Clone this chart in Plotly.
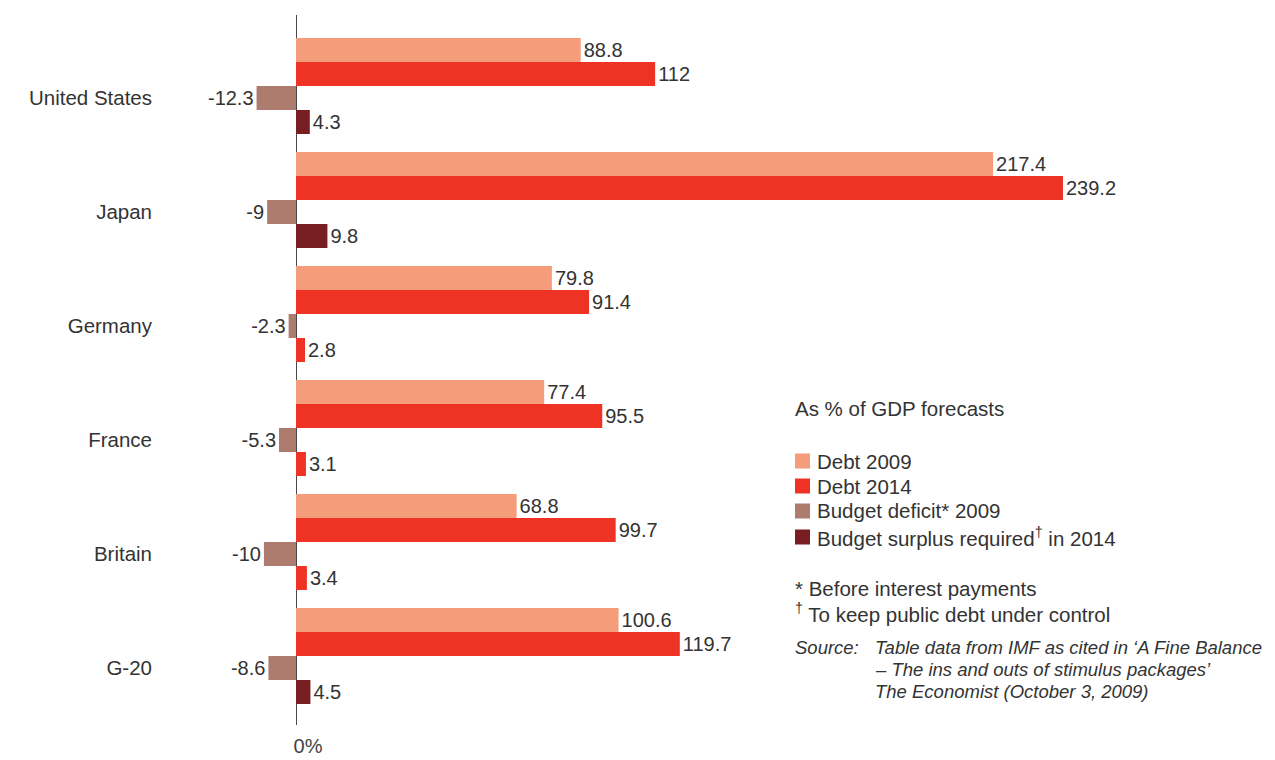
import plotly.graph_objects as go

# ---- data (% of GDP) ----
countries = ["United States", "Japan", "Germany", "France", "Britain", "G-20"]
debt_2009 = [88.8, 217.4, 79.8, 77.4, 68.8, 100.6]
debt_2014 = [112, 239.2, 91.4, 95.5, 99.7, 119.7]
deficit_2009 = [-12.3, -9, -2.3, -5.3, -10, -8.6]
surplus_2014 = [4.3, 9.8, 2.8, 3.1, 3.4, 4.5]

series_names = ["Debt 2009", "Debt 2014", "Budget deficit* 2009",
                "Budget surplus required<sup>†</sup> in 2014"]

# ---- styling ----
FONT = "Liberation Sans, Arial, Helvetica, sans-serif"
TEXT = "#333333"
C_DEBT09 = "#F59C7B"
C_DEBT14 = "#EE3224"
C_DEFICIT = "#AD7C6E"
C_SURPLUS = "#771E22"
surplus_colors = [C_SURPLUS, C_SURPLUS, C_DEBT14, C_DEBT14, C_DEBT14, C_SURPLUS]
legend_colors = [C_DEBT09, C_DEBT14, C_DEFICIT, C_SURPLUS]

W, H = 1275, 760
L, R, T, B = 170, 10, 15, 35
PX_PER_UNIT = 3.2065          # horizontal scale
ZERO_PX = 296                 # x pixel of the 0% line
BAR_PX = 24                   # bar thickness
GROUP_PX = 114                # distance between country groups
FIRST_BAR_PX = 50             # centre of the first bar

x_min = (L - ZERO_PX) / PX_PER_UNIT
x_max = (W - R - ZERO_PX) / PX_PER_UNIT
step = GROUP_PX / BAR_PX
y_top = (T - FIRST_BAR_PX) / BAR_PX
y_bot = (H - B - FIRST_BAR_PX) / BAR_PX


def slot(k):
    return [g * step + k for g in range(len(countries))]


def fmt(v):
    return f"{v:g}"


fig = go.Figure()
series = [debt_2009, debt_2014, deficit_2009, surplus_2014]
colors = [C_DEBT09, C_DEBT14, C_DEFICIT, surplus_colors]
for k, (vals, name, col) in enumerate(zip(series, series_names, colors)):
    fig.add_trace(go.Bar(
        x=vals, y=slot(k), orientation="h", width=1.0, name=name,
        marker=dict(color=col, line=dict(width=0)),
        text=[fmt(v) for v in vals], textposition="outside",
        textfont=dict(family=FONT, size=20, color=TEXT),
        constraintext="none", cliponaxis=False, hoverinfo="skip",
        showlegend=False,
    ))

fig.update_layout(
    width=W, height=H, barmode="overlay",
    margin=dict(l=L, r=R, t=T, b=B, pad=0, autoexpand=False),
    paper_bgcolor="white", plot_bgcolor="white",
    font=dict(family=FONT, color=TEXT, size=20),
    showlegend=False,
    xaxis=dict(range=[x_min, x_max], showgrid=False, showline=False,
               zeroline=True, zerolinecolor="#4a4a4a", zerolinewidth=1.2,
               tickvals=[0], ticktext=["0%"], ticks="",
               tickfont=dict(family=FONT, size=20, color="#444444"),
               ticklabelstandoff=7, ticklabelshift=12, automargin=False,
               fixedrange=True),
    yaxis=dict(range=[y_bot, y_top], showgrid=False, showline=False,
               zeroline=False, tickvals=slot(2), ticktext=countries,
               ticks="", ticklabelstandoff=17, automargin=False,
               tickfont=dict(family=FONT, size=20.5, color=TEXT),
               fixedrange=True),
)


def px_x(px):
    return (px - L) / (W - L - R)


def px_y(py):
    return (H - B - py) / (H - T - B)


# legend: colour swatches with their series names
legend_rows = [461, 486, 511, 537]
for name, col, yc in zip(series_names, legend_colors, legend_rows):
    fig.add_shape(type="rect", xref="paper", yref="paper",
                  x0=px_x(795), x1=px_x(810), y0=px_y(yc + 7.5), y1=px_y(yc - 7.5),
                  fillcolor=col, line=dict(width=0))
    fig.add_annotation(text=name, xref="paper", yref="paper",
                       x=px_x(815), y=px_y(yc), xanchor="left", yanchor="middle",
                       showarrow=False,
                       font=dict(family=FONT, size=20.5, color=TEXT))

notes = [
    ("As % of GDP forecasts", 793, 409, 20.5, False),
    ("* Before interest payments", 793, 588, 20.5, False),
    ("<sup>†</sup> To keep public debt under control", 793, 613, 20.5, False),
    ("Source:", 793, 647, 18.5, True),
    ("Table data from IMF as cited in ‘A Fine Balance", 873, 647, 18.5, True),
    ("– The ins and outs of stimulus packages’", 873, 669, 18.5, True),
    ("The Economist (October 3, 2009)", 873, 691, 18.5, True),
]
for txt, x, y, size, italic in notes:
    fig.add_annotation(
        text=f"<i>{txt}</i>" if italic else txt,
        xref="paper", yref="paper", x=px_x(x), y=px_y(y),
        xanchor="left", yanchor="middle", showarrow=False,
        font=dict(family=FONT, size=size, color=TEXT),
    )

fig.write_html("out.html", config={"displayModeBar": False})
